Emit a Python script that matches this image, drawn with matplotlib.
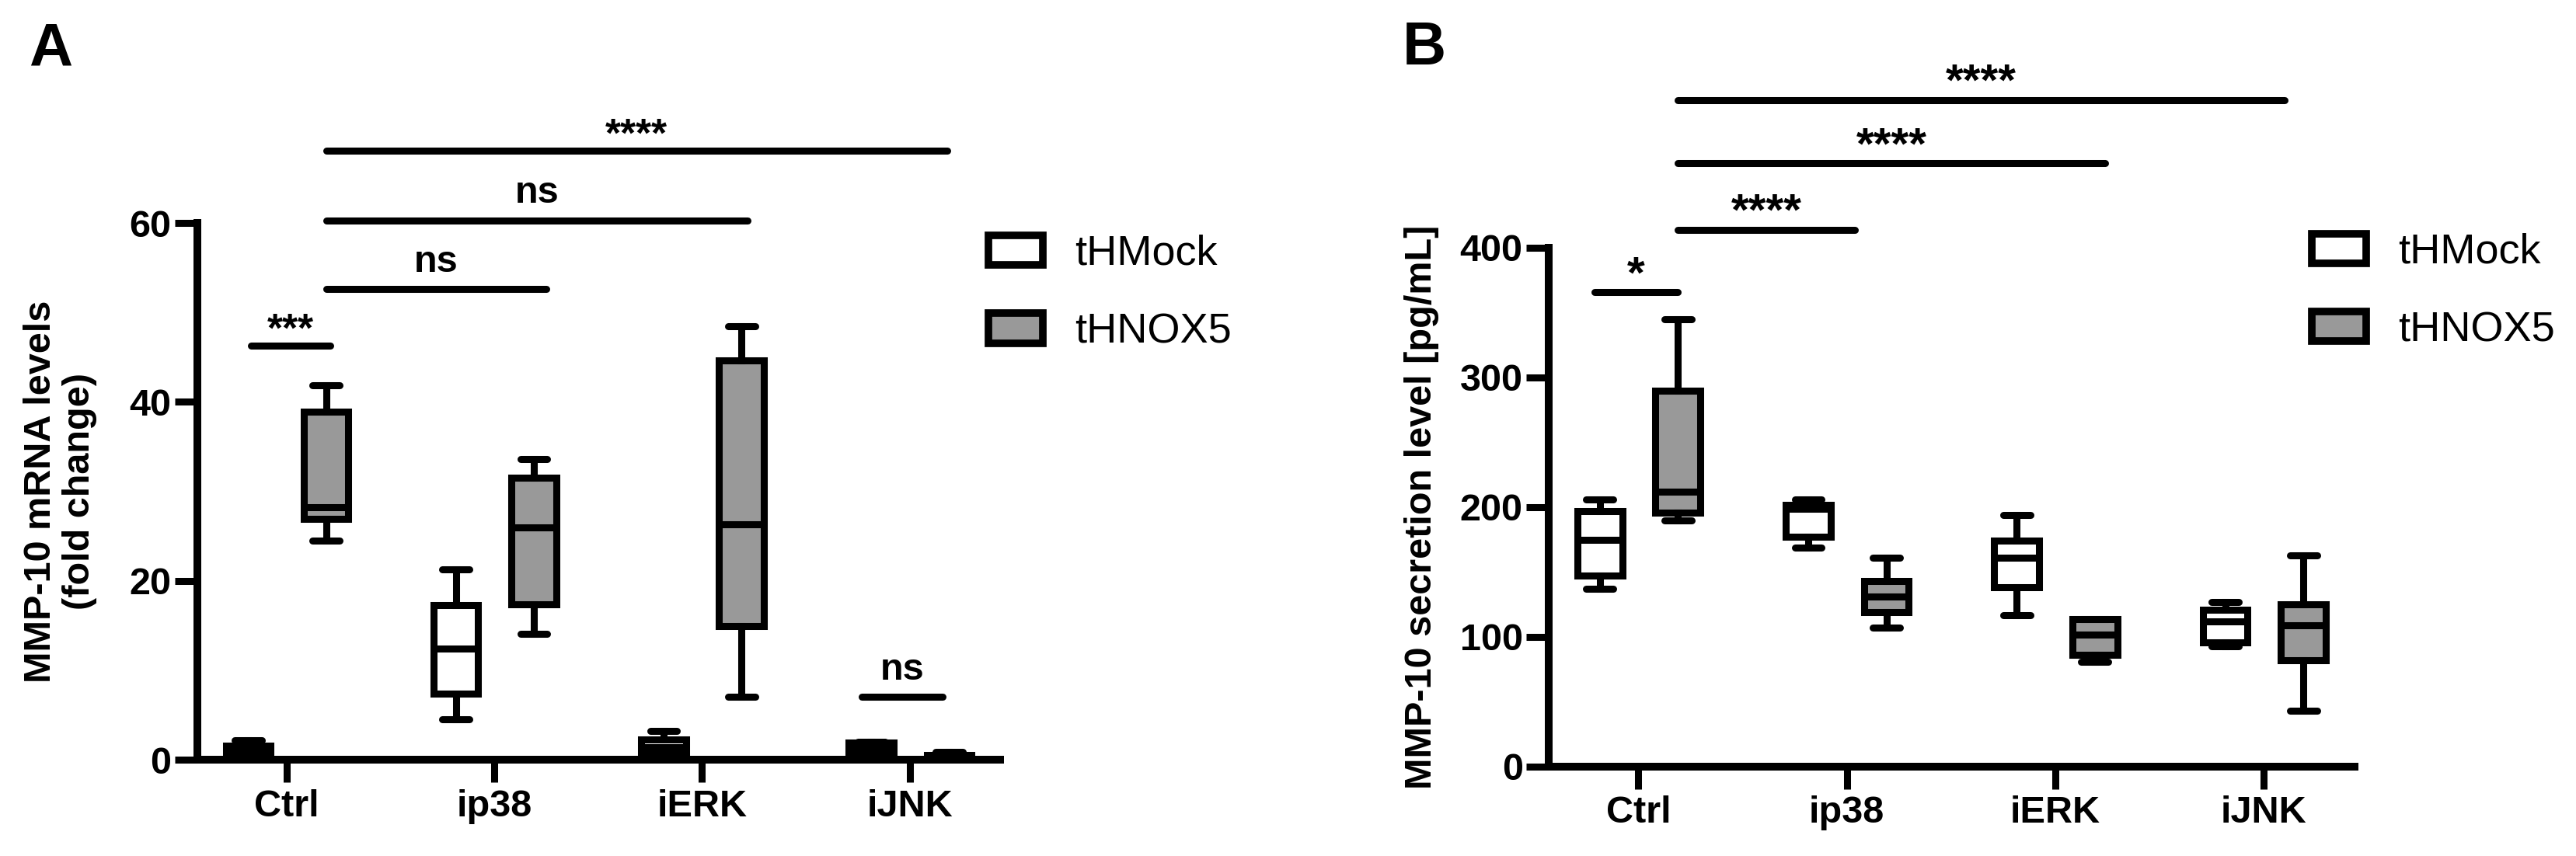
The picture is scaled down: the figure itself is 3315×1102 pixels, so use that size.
import matplotlib
matplotlib.use("Agg")
import matplotlib.pyplot as plt
from matplotlib.patches import Patch

plt.rcParams['font.family'] = ['Liberation Sans', 'DejaVu Sans']

# data: each row is (whisker low, Q1, median, Q3, whisker high)
categories = ["Ctrl", "ip38", "iERK", "iJNK"]
groups = ["tHMock", "tHNOX5"]

mrna_mock = [
    (0.3, 0.5, 1.0, 1.6, 2.2),
    (4.5, 7.4, 12.4, 17.3, 21.3),
    (0.5, 0.8, 1.4, 2.3, 3.2),
    (0.5, 0.8, 1.5, 1.9, 2.0),
]
mrna_nox5 = [
    (24.5, 26.9, 28.2, 38.9, 41.9),
    (14.1, 17.4, 26.0, 31.5, 33.6),
    (7.0, 14.9, 26.3, 44.6, 48.5),
    (0.1, 0.2, 0.3, 0.5, 0.9),
]
secr_mock = [
    (137, 147, 175, 197, 206),
    (169, 177, 199, 202, 206),
    (117, 138, 161, 174, 194),
    (93, 96, 112, 121, 127),
]
secr_nox5 = [
    (190, 196, 212, 290, 345),
    (107, 119, 131, 143, 161),
    (81, 86, 102, 114, 114),
    (43, 82, 109, 125, 163),
]

# significance bars: (x start, x end, height, label)
sig_a = [
    (-0.17, 0.21, 46.3, "***"),
    (0.19, 1.25, 52.6, "ns"),
    (0.19, 2.22, 60.3, "ns"),
    (0.19, 3.18, 68.1, "****"),
    (2.77, 3.16, 7.0, "ns"),
]
sig_b = [
    (-0.21, 0.19, 366, "*"),
    (0.19, 1.04, 414, "****"),
    (0.19, 2.24, 465, "****"),
    (0.19, 3.10, 514, "****"),
]

GRAY = "#999999"
LW = 6.5
FS = 35


def to_stats(rows):
    return [dict(whislo=r[0], q1=r[1], med=r[2], q3=r[3], whishi=r[4]) for r in rows]


def draw_panel(ax, mock, nox5, ylim, yticks, ylabel, label_x, sigs, star_fs):
    for rows, off, color in [(mock, -0.185, "white"), (nox5, 0.19, GRAY)]:
        pos = [i + off for i in range(len(categories))]
        ax.bxp(to_stats(rows), positions=pos, widths=0.215, capwidths=0.13,
               showfliers=False, patch_artist=True,
               boxprops=dict(facecolor=color, edgecolor="black", linewidth=LW),
               medianprops=dict(color="black", linewidth=LW),
               whiskerprops=dict(color="black", linewidth=LW),
               capprops=dict(color="black", linewidth=LW, solid_capstyle="round"),
               manage_ticks=False)

    ax.set_xlim(-0.43, 3.435)
    ax.set_ylim(*ylim)
    ax.set_xticks(range(len(categories)))
    ax.set_xticklabels(categories, fontweight="bold")
    ax.set_yticks(yticks)
    ax.set_yticklabels([str(t) for t in yticks], fontweight="bold")
    ax.tick_params(axis="both", length=21, width=LW, labelsize=FS, direction="out")
    ax.tick_params(axis="x", pad=6)
    ax.tick_params(axis="y", pad=3)
    for s in ["top", "right"]:
        ax.spines[s].set_visible(False)
    for s in ["left", "bottom"]:
        ax.spines[s].set_linewidth(7.2)
    ax.set_ylabel(ylabel, fontsize=FS, fontweight="bold", linespacing=1.15)
    ax.yaxis.set_label_coords(label_x, 0.5)

    for x0, x1, y, txt in sigs:
        ax.plot([x0, x1], [y, y], color="black", lw=LW, solid_capstyle="round", clip_on=False)
        if txt == "ns":
            ax.annotate(txt, xy=((x0 + x1) / 2, y), xytext=(0, 16), textcoords="offset points",
                        ha="center", va="baseline", fontsize=FS, fontweight="bold",
                        annotation_clip=False)
        else:
            ax.annotate(txt, xy=((x0 + x1) / 2, y), xytext=(0, 4), textcoords="offset points",
                        ha="center", va="baseline", fontsize=star_fs, fontweight="bold",
                        annotation_clip=False)


def add_legend(ax, x, y):
    handles = [Patch(facecolor="white", edgecolor="black", linewidth=7),
               Patch(facecolor=GRAY, edgecolor="black", linewidth=7)]
    ax.legend(handles, groups, loc="upper left", bbox_to_anchor=(x, y),
              bbox_transform=ax.figure.transFigure, frameon=False, fontsize=39,
              handlelength=1.3, handleheight=0.72, handletextpad=0.75,
              labelspacing=0.93, borderpad=0, borderaxespad=0)


fig = plt.figure(figsize=(33.15, 11.02), dpi=100)

ax_a = fig.add_axes([0.0766, 0.1125, 0.3116, 0.6270])
draw_panel(ax_a, mrna_mock, mrna_nox5, (0, 60), [0, 20, 40, 60],
           "MMP-10 mRNA levels\n(fold change)", -0.125, sig_a, 37)
add_legend(ax_a, 0.3837, 0.726)

ax_b = fig.add_axes([0.6012, 0.1044, 0.3128, 0.6062])
draw_panel(ax_b, secr_mock, secr_nox5, (0, 400), [0, 100, 200, 300, 400],
           "MMP-10 secretion level [pg/mL]", -0.136, sig_b, 42)
add_legend(ax_b, 0.8974, 0.728)

fig.text(37 / 3315, 1 - 84 / 1102, "A", fontsize=56, fontweight="bold", ha="left", va="baseline")
fig.text(1805 / 3315, 1 - 83 / 1102, "B", fontsize=56, fontweight="bold", ha="left", va="baseline")

fig.savefig("out.png", dpi=100)
